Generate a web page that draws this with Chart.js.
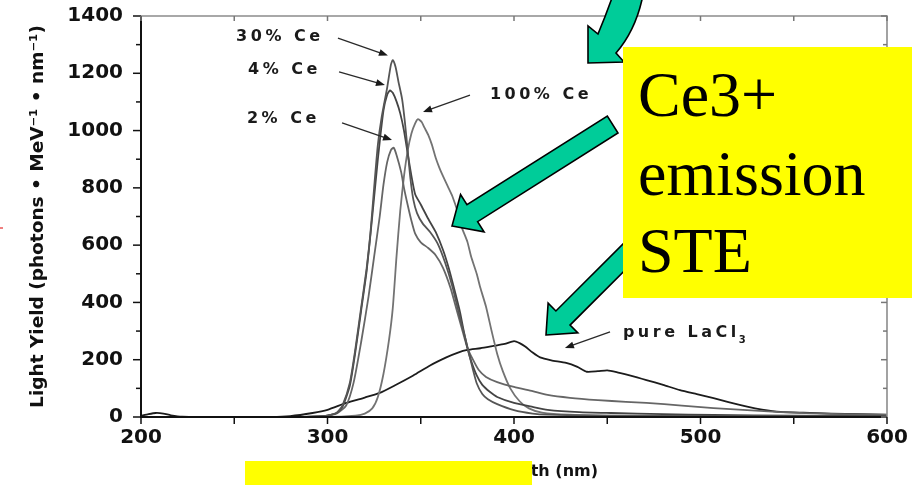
<!DOCTYPE html>
<html>
<head>
<meta charset="utf-8">
<title>Light yield spectra of LaCl3:Ce</title>
<script src="https://cdn.jsdelivr.net/npm/chart.js@4/dist/chart.umd.min.js"></script>
<style>
  html, body { margin: 0; padding: 0; background: #ffffff; }
  canvas { display: block; }
</style>
</head>
<body>
<canvas id="spectra" width="914" height="485" style="width:914px;height:485px"></canvas>
<script>
// Emission spectra: wavelength (nm) and light yield (photons / MeV / nm)
const ce30Nm    = [200, 280, 295, 300, 305, 308, 312, 315, 318, 321, 323, 325, 327, 329, 332, 334, 335, 336.5, 338, 340, 341.5, 343, 344.5, 346, 348, 351, 355, 359, 363, 367, 370, 372, 374, 376, 378, 380, 383, 386, 391, 400, 410, 418, 450, 520, 600];
const ce30Yield = [0, 0, 2, 5, 15, 40, 120, 240, 380, 520, 640, 800, 950, 1045, 1150, 1230, 1246, 1222, 1172, 1110, 1030, 930, 830, 760, 712, 676, 646, 606, 540, 455, 375, 322, 272, 218, 165, 118, 80, 62, 45, 24, 12, 8, 4, 3, 2];

const ce4Nm     = [200, 280, 295, 300, 305, 308, 312, 315, 318, 321, 324, 327, 330, 332, 333.5, 335, 337, 339, 341, 343, 345, 347, 350, 354, 358, 362, 365, 368, 371, 373, 375, 377, 380, 383, 387, 391, 400, 410, 418, 435, 452, 480, 507, 550, 600];
const ce4Yield  = [0, 0, 2, 5, 15, 35, 110, 230, 370, 510, 700, 900, 1070, 1125, 1140, 1132, 1102, 1060, 1000, 920, 842, 778, 742, 692, 646, 582, 520, 446, 368, 302, 242, 196, 145, 112, 88, 70, 49, 35, 25, 17, 14, 10, 7, 5, 3];

const ce2Nm     = [200, 280, 295, 300, 305, 310, 314, 318, 322, 325, 328, 330, 332, 334, 335.5, 337, 339.5, 341, 343, 345, 347, 350, 354, 358, 362, 366, 369, 372, 375, 378, 381, 385, 391, 400, 410, 418, 430, 445, 460, 471, 490, 507, 525, 543, 570, 600];
const ce2Yield  = [0, 0, 2, 5, 12, 40, 120, 260, 420, 560, 700, 810, 890, 932, 940, 915, 855, 800, 740, 685, 640, 610, 590, 565, 520, 450, 380, 310, 242, 200, 165, 140, 122, 105, 90, 77, 67, 59, 53, 49, 40, 31, 24, 17, 11, 7];

const ce100Nm    = [200, 300, 315, 320, 324, 327, 330, 333, 335, 337, 339, 341, 343, 345, 347, 348.5, 350.5, 352, 354, 356, 358, 360, 362, 364.5, 367, 370, 372, 375, 377, 380, 382, 385, 388, 391, 394, 398, 403, 408, 415, 430, 460, 600];
const ce100Yield = [0, 0, 5, 12, 30, 70, 150, 270, 380, 560, 720, 840, 930, 990, 1025, 1040, 1030, 1010, 985, 950, 905, 870, 840, 805, 770, 712, 662, 612, 560, 500, 450, 385, 300, 220, 160, 100, 55, 30, 15, 8, 5, 2];

const pureNm    = [200, 204, 208, 212, 216, 222, 240, 270, 280, 292, 300, 310, 320, 328, 336, 346, 355, 364, 370, 375, 382, 389, 395, 400, 403, 406, 410, 414, 420, 428, 434, 439, 445, 450, 455, 461, 466, 471, 480, 489, 498, 507, 515, 525, 533, 543, 555, 570, 585, 600];
const pureYield = [4, 10, 14, 12, 6, 1, 0, 0, 3, 14, 25, 49, 68, 84, 110, 145, 180, 209, 225, 234, 240, 248, 255, 265, 258, 246, 225, 208, 198, 189, 175, 158, 160, 163, 157, 147, 138, 129, 112, 94, 80, 66, 52, 36, 26, 18, 15, 12, 10, 8];

// Axis ticks
const xTicks = [200, 300, 400, 500, 600];
const yTicks = [0, 200, 400, 600, 800, 1000, 1200, 1400];

// Curve labels: text, text anchor (nm, yield), arrow from / to (nm, yield)
const curveLabels = [
  { text: '30% Ce', at: [251.0, 1327], from: [305.6, 1323], to: [332.4, 1262] },
  { text: '4% Ce',  at: [257.4, 1212], from: [306.2, 1205], to: [330.8, 1159] },
  { text: '2% Ce',  at: [256.8, 1041], from: [307.8, 1027], to: [334.6, 967] },
  { text: '100% Ce', at: [387.1, 1124], from: [376.4, 1124], to: [351.2, 1065] },
  { text: 'pure LaCl', sub: '3', at: [458.4, 293], from: [451.5, 297], to: [427.3, 241] }
];

const xTitle = 'Wavelength (nm)';
const yTitle = 'Light Yield (photons • MeV⁻¹ • nm⁻¹)';
const calloutLines = ['Ce3+', 'emission', 'STE'];

const pts = (xs, ys) => xs.map((x, i) => ({ x: x, y: ys[i] }));

const series = [
  { label: '30% Ce',  data: pts(ce30Nm, ce30Yield),   color: '#555555' },
  { label: '4% Ce',   data: pts(ce4Nm, ce4Yield),     color: '#444444' },
  { label: '2% Ce',   data: pts(ce2Nm, ce2Yield),     color: '#666666' },
  { label: '100% Ce', data: pts(ce100Nm, ce100Yield), color: '#737373' },
  { label: 'pure LaCl3', data: pts(pureNm, pureYield), color: '#1c1c1c' }
];

const BOLD = '"DejaVu Sans", "Noto Sans", sans-serif';

// Frame, tick marks, curve labels and the slide callouts
const overlay = {
  id: 'overlay',
  afterDraw(chart) {
    const { ctx, chartArea: a, scales: { x, y } } = chart;
    ctx.save();

    // top and right border (light)
    ctx.strokeStyle = '#8c8c8c';
    ctx.lineWidth = 1.6;
    ctx.beginPath();
    ctx.moveTo(a.left, a.top); ctx.lineTo(a.right, a.top); ctx.lineTo(a.right, a.bottom);
    ctx.stroke();

    // left and bottom axes
    ctx.strokeStyle = '#111';
    ctx.lineWidth = 2;
    ctx.beginPath();
    ctx.moveTo(a.left, a.top); ctx.lineTo(a.left, a.bottom); ctx.lineTo(a.right, a.bottom);
    ctx.stroke();

    // y ticks: outward on the left, inward on the right
    ctx.lineWidth = 1.5;
    for (let v = 0; v <= 1400; v += 100) {
      const py = y.getPixelForValue(v);
      const major = v % 200 === 0;
      ctx.strokeStyle = '#111';
      ctx.beginPath();
      ctx.moveTo(a.left - (major ? 8 : 5), py); ctx.lineTo(a.left, py);
      ctx.stroke();
      ctx.strokeStyle = '#777';
      ctx.beginPath();
      ctx.moveTo(a.right - (major ? 6 : 4), py); ctx.lineTo(a.right, py);
      ctx.stroke();
    }
    // x ticks: outward at the bottom, inward at the top
    for (let v = 200; v <= 600; v += 50) {
      const px = x.getPixelForValue(v);
      ctx.strokeStyle = '#111';
      ctx.beginPath();
      ctx.moveTo(px, a.bottom); ctx.lineTo(px, a.bottom + 7);
      ctx.stroke();
      ctx.strokeStyle = '#777';
      ctx.beginPath();
      ctx.moveTo(px, a.top); ctx.lineTo(px, a.top + 5);
      ctx.stroke();
    }

    // x axis title, right end near the 600 nm label
    ctx.fillStyle = '#111';
    ctx.font = 'bold 16px ' + BOLD;
    ctx.textAlign = 'right';
    ctx.textBaseline = 'middle';
    ctx.fillText(xTitle, x.getPixelForValue(600) - 289, 472);

    // curve labels with pointer arrows
    ctx.fillStyle = '#1a1a1a';
    ctx.strokeStyle = '#2a2a2a';
    ctx.textBaseline = 'middle';
    ctx.textAlign = 'left';
    curveLabels.forEach(l => {
      ctx.font = 'bold 16px ' + BOLD;
      if ('letterSpacing' in ctx) ctx.letterSpacing = '3.5px';
      const tx = x.getPixelForValue(l.at[0]);
      const ty = y.getPixelForValue(l.at[1]);
      ctx.fillText(l.text, tx, ty);
      if (l.sub) {
        const w = ctx.measureText(l.text).width;
        ctx.font = 'bold 10px ' + BOLD;
        ctx.fillText(l.sub, tx + w - 1, ty + 7);
      }
      if ('letterSpacing' in ctx) ctx.letterSpacing = '0px';
      const x0 = x.getPixelForValue(l.from[0]), y0 = y.getPixelForValue(l.from[1]);
      const x1 = x.getPixelForValue(l.to[0]),   y1 = y.getPixelForValue(l.to[1]);
      const ang = Math.atan2(y1 - y0, x1 - x0);
      ctx.lineWidth = 1.3;
      ctx.beginPath();
      ctx.moveTo(x0, y0); ctx.lineTo(x1 - 6 * Math.cos(ang), y1 - 6 * Math.sin(ang));
      ctx.stroke();
      ctx.beginPath();
      ctx.moveTo(x1, y1);
      ctx.lineTo(x1 - 9 * Math.cos(ang) + 3.5 * Math.sin(ang), y1 - 9 * Math.sin(ang) - 3.5 * Math.cos(ang));
      ctx.lineTo(x1 - 9 * Math.cos(ang) - 3.5 * Math.sin(ang), y1 - 9 * Math.sin(ang) + 3.5 * Math.cos(ang));
      ctx.closePath();
      ctx.fill();
    });

    // green block arrows
    const green = '#00cc99';
    function blockArrow(tx, ty, dx, dy, len, headLen, headHalf, shaftHalf) {
      const n = Math.hypot(dx, dy), ux = dx / n, uy = dy / n, px = -uy, py = ux;
      const P = (u, w) => [tx + ux * u + px * w, ty + uy * u + py * w];
      const path = [P(0, 0), P(headLen, headHalf), P(headLen, shaftHalf), P(len, shaftHalf),
                    P(len, -shaftHalf), P(headLen, -shaftHalf), P(headLen, -headHalf)];
      ctx.beginPath();
      path.forEach((p, i) => i ? ctx.lineTo(p[0], p[1]) : ctx.moveTo(p[0], p[1]));
      ctx.closePath();
      ctx.fillStyle = green; ctx.fill();
      ctx.strokeStyle = '#000'; ctx.lineWidth = 1.6; ctx.stroke();
    }
    blockArrow(452, 226, 160, -101, 190, 24, 22, 10);
    blockArrow(546, 335, 80, -80, 120, 24, 21, 10);

    // curved arrow entering from the top
    ctx.beginPath();
    ctx.moveTo(613, -5);
    ctx.quadraticCurveTo(606, 15, 598, 34);
    ctx.lineTo(588, 26);
    ctx.lineTo(588, 63);
    ctx.lineTo(624, 62);
    ctx.lineTo(616, 53);
    ctx.quadraticCurveTo(636, 30, 643, -5);
    ctx.closePath();
    ctx.fillStyle = green; ctx.fill();
    ctx.strokeStyle = '#000'; ctx.lineWidth = 1.6; ctx.stroke();

    // yellow callout box
    ctx.fillStyle = '#ffff00';
    ctx.fillRect(623, 47, 289, 251);
    ctx.fillStyle = '#000';
    ctx.font = '64px "Liberation Serif", "Times New Roman", serif';
    ctx.textBaseline = 'alphabetic';
    const baselines = [116, 195, 272];
    calloutLines.forEach((t, i) => ctx.fillText(t, 638, baselines[i]));

    // yellow strip over the axis title
    ctx.fillStyle = '#ffff00';
    ctx.fillRect(245, 461, 287, 24);

    // small red mark at the left edge
    ctx.strokeStyle = '#e00000';
    ctx.lineWidth = 1;
    ctx.beginPath(); ctx.moveTo(0, 228); ctx.lineTo(3, 228); ctx.stroke();

    ctx.restore();
  }
};

new Chart(document.getElementById('spectra'), {
  type: 'line',
  data: {
    datasets: series.map(s => ({
      label: s.label,
      data: s.data,
      borderColor: s.color,
      borderWidth: 1.8,
      pointRadius: 0,
      tension: 0.2,
      fill: false
    }))
  },
  options: {
    responsive: false,
    animation: false,
    devicePixelRatio: 1,
    layout: { padding: { top: 16, right: 27, left: 0, bottom: 0 } },
    plugins: { legend: { display: false }, tooltip: { enabled: false } },
    scales: {
      x: {
        type: 'linear', min: 200, max: 600,
        afterBuildTicks: s => { s.ticks = xTicks.map(v => ({ value: v })); },
        afterFit: s => { s.height = 68; s.paddingLeft = 0; s.paddingRight = 0; },
        ticks: { color: '#111', padding: 9, maxRotation: 0, callback: v => String(v),
                 font: { family: BOLD, size: 20, weight: 'bold' } },
        grid: { display: false, drawTicks: false },
        border: { display: false },
        title: { display: false }
      },
      y: {
        type: 'linear', min: 0, max: 1400,
        afterBuildTicks: s => { s.ticks = yTicks.map(v => ({ value: v })); },
        afterFit: s => { s.width = 141; s.paddingTop = 0; s.paddingBottom = 0; },
        ticks: { color: '#111', padding: 18, callback: v => String(v),
                 font: { family: BOLD, size: 20, weight: 'bold' } },
        grid: { display: false, drawTicks: false },
        border: { display: false },
        title: { display: true, text: yTitle, color: '#111', padding: { top: 27, bottom: 0 },
                 font: { family: BOLD, size: 18.5, weight: 'bold' } }
      }
    }
  },
  plugins: [overlay]
});
</script>
</body>
</html>
